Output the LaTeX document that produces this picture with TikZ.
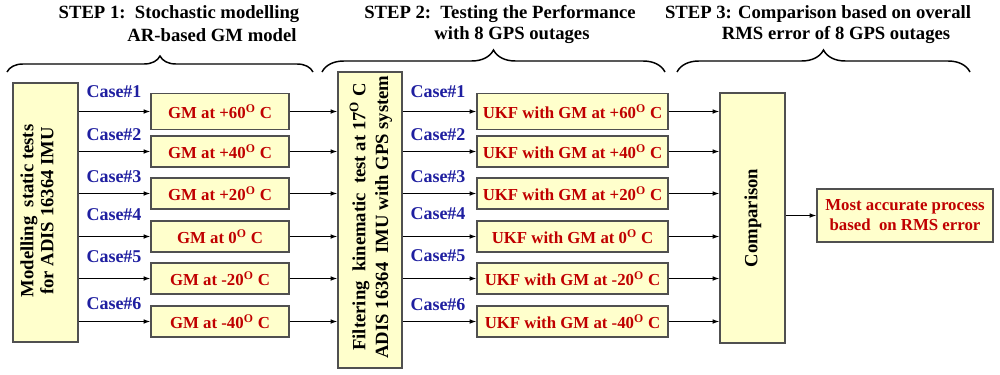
\documentclass[tikz,border=0pt]{standalone}
\usepackage{fontspec}
\setmainfont{Liberation Serif}
\usetikzlibrary{arrows.meta,decorations.pathreplacing}
\definecolor{boxfill}{HTML}{FFFFCC}
\definecolor{boxline}{HTML}{505050}
\definecolor{redtxt}{HTML}{C00000}
\definecolor{bluetxt}{HTML}{1F1FA0}
\tikzset{
  box/.style={draw=boxline, line width=1.1pt, fill=boxfill, inner sep=0pt, rectangle},
  redlbl/.style={text=redtxt, font=\fontsize{12.6}{15}\selectfont\bfseries, align=center},
  rotlbl/.style={rotate=90, font=\fontsize{14}{15}\selectfont\bfseries, align=center, inner sep=0pt},
  caselbl/.style={text=bluetxt, font=\fontsize{13.5}{15}\selectfont\bfseries, inner sep=0pt},
  ttl/.style={font=\fontsize{14}{16}\selectfont\bfseries, inner sep=0pt},
  arr/.style={-{Latex[length=5pt,width=3.5pt]}, line width=0.7pt},
  brc/.style={decorate, line width=1.1pt},
}
\newcommand{\dg}{\textsuperscript{O}}
\begin{document}
\begin{tikzpicture}[x=0.75pt,y=-0.75pt]
\useasboundingbox (0,0) rectangle (1000,375);
% titles
\node[ttl] (t1a) at (179,14) {STEP 1:\ \ Stochastic modelling};
\node[ttl] (t1b) at (212,35) {AR-based GM model};
\node[ttl] (t2a) at (500,14) {STEP 2:\ \ Testing the Performance};
\node[ttl] (t2b) at (512,35) {with 8 GPS outages};
\node[ttl] (t3a) at (818,14) {STEP 3: Comparison based on overall};
\node[ttl] (t3b) at (836,35) {RMS error of 8 GPS outages};
% braces
\coordinate (b1s) at (7,72);   \coordinate (b1e) at (313,72);
\coordinate (b2s) at (322,72); \coordinate (b2e) at (665,72);
\coordinate (b3s) at (677,72); \coordinate (b3e) at (970,72);
\draw[brc, decoration={brace, amplitude=12pt}] (b1s) -- (b1e);
\draw[brc, decoration={brace, amplitude=16.5pt}] (b2s) -- (b2e);
\draw[brc, decoration={brace, amplitude=16.5pt}] (b3s) -- (b3e);
% left box
\node[box, minimum width={0.75pt*65}, minimum height={0.75pt*259}] (L) at (45.5,212.5) {};
\node[rotlbl] (Lt) at (37,211) {Modelling\ \ static tests\\for ADIS 16364 IMU};
% middle box
\node[box, minimum width={0.75pt*64}, minimum height={0.75pt*296}] (M) at (370,220) {};
\node[rotlbl, font=\fontsize{14}{17}\selectfont\bfseries] (Mt) at (371,217) {Filtering\ \ kinematic\ \ test at 17\dg\ C\\ADIS 16364\ \ IMU with GPS system};
% comparison box
\node[box, minimum width={0.75pt*65}, minimum height={0.75pt*250}] (C) at (752.5,218) {};
\node[rotlbl] (Ct) at (753,218) {Comparison};
% result box
\node[box, redlbl, minimum width={0.75pt*176}, minimum height={0.75pt*53}] (R) at (905,215.5) {Most accurate process\\based\ \ on RMS error};
% GM boxes
\node[box, redlbl, minimum width={0.75pt*138}, minimum height={0.75pt*36}] (g1) at (220,111.5) {GM at +60\dg\ C};
\node[box, redlbl, minimum width={0.75pt*138}, minimum height={0.75pt*31}] (g2) at (220,151.5) {GM at +40\dg\ C};
\node[box, redlbl, minimum width={0.75pt*138}, minimum height={0.75pt*31}] (g3) at (220,193.5) {GM at +20\dg\ C};
\node[box, redlbl, minimum width={0.75pt*138}, minimum height={0.75pt*31}] (g4) at (220,236.5) {GM at 0\dg\ C};
\node[box, redlbl, minimum width={0.75pt*138}, minimum height={0.75pt*31}] (g5) at (220,278.5) {GM at -20\dg\ C};
\node[box, redlbl, minimum width={0.75pt*138}, minimum height={0.75pt*31}] (g6) at (220,321.5) {GM at -40\dg\ C};
% UKF boxes
\node[box, redlbl, minimum width={0.75pt*191}, minimum height={0.75pt*36}] (u1) at (572.5,111.5) {UKF with GM at +60\dg\ C};
\node[box, redlbl, minimum width={0.75pt*191}, minimum height={0.75pt*31}] (u2) at (572.5,151.5) {UKF with GM at +40\dg\ C};
\node[box, redlbl, minimum width={0.75pt*191}, minimum height={0.75pt*31}] (u3) at (572.5,193.5) {UKF with GM at +20\dg\ C};
\node[box, redlbl, minimum width={0.75pt*191}, minimum height={0.75pt*31}] (u4) at (572.5,236.5) {UKF with GM at 0\dg\ C};
\node[box, redlbl, minimum width={0.75pt*191}, minimum height={0.75pt*31}] (u5) at (572.5,278.5) {UKF with GM at -20\dg\ C};
\node[box, redlbl, minimum width={0.75pt*191}, minimum height={0.75pt*31}] (u6) at (572.5,321.5) {UKF with GM at -40\dg\ C};
% case labels
\node[caselbl] (c1a) at (114,92) {Case\#1};
\node[caselbl] (c2a) at (114,135) {Case\#2};
\node[caselbl] (c3a) at (114,177) {Case\#3};
\node[caselbl] (c4a) at (114,215) {Case\#4};
\node[caselbl] (c5a) at (114,257) {Case\#5};
\node[caselbl] (c6a) at (114,304) {Case\#6};
\node[caselbl] (c1b) at (438,92) {Case\#1};
\node[caselbl] (c2b) at (438,135) {Case\#2};
\node[caselbl] (c3b) at (438,177) {Case\#3};
\node[caselbl] (c4b) at (438,214) {Case\#4};
\node[caselbl] (c5b) at (438,256) {Case\#5};
\node[caselbl] (c6b) at (438,305) {Case\#6};
% arrows
\foreach \i in {1,...,6}{
  \draw[arr] (L.east |- g\i.west) -- (g\i.west);
  \draw[arr] (g\i.east) -- (g\i.east -| M.west);
  \draw[arr] (M.east |- u\i.west) -- (u\i.west);
  \draw[arr] (u\i.east) -- (u\i.east -| C.west);
}
\draw[arr] (C.east |- R.west) -- (R.west);
\end{tikzpicture}
\end{document}
